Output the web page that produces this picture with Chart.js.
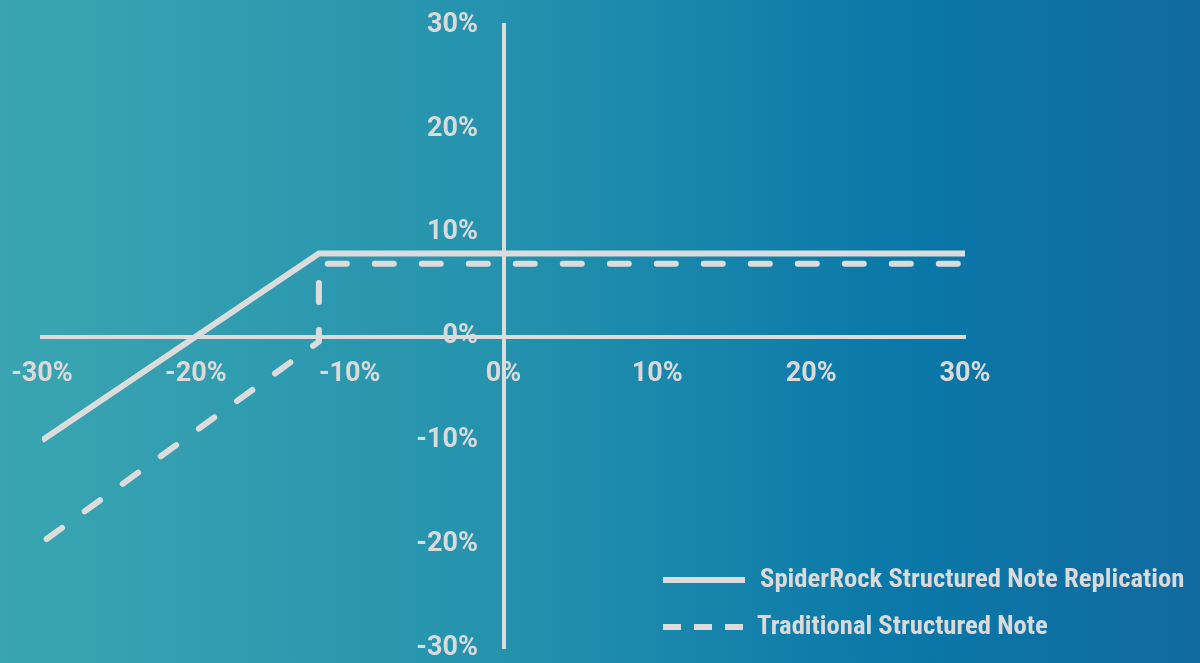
<!DOCTYPE html>
<html>
<head>
<meta charset="utf-8">
<script src="https://cdn.jsdelivr.net/npm/chart.js"></script>
<style>
  html, body { margin: 0; padding: 0; background: #1f8aab; }
  #wrap { width: 1200px; height: 663px; }
</style>
</head>
<body>
<div id="wrap"><canvas id="payoffChart" width="1200" height="663"></canvas></div>
<script>
// tick values (percent) for both axes
const tickValues = [-30, -20, -10, 0, 10, 20, 30];

// SpiderRock replication payoff (solid)
const replicationX = [-30, -12, 30];
const replicationY = [-10, 8, 8];

// traditional note payoff (dashed)
const traditionalX = [-29.7, -12, -12, 30];
const traditionalY = [-19.5, -0.5, 7, 7];

const seriesLabels = ["SpiderRock Structured Note Replication", "Traditional Structured Note"];

const lineColor = "#dcdcdc";
const textColor = "#dadada";
const condensedFont = "'Liberation Sans Narrow', 'Roboto Condensed', Roboto, sans-serif";

function toPoints(xs, ys) {
    return xs.map((x, i) => ({ x: x, y: ys[i] }));
}

// gradient background behind everything
const backgroundPlugin = {
    id: "gradientBg",
    beforeDraw(chart) {
        const ctx = chart.ctx;
        const g = ctx.createLinearGradient(0, 0, chart.width, 0);
        g.addColorStop(0, "#3aa5b1");
        g.addColorStop(0.4, "#2693ae");
        g.addColorStop(0.75, "#0a78a8");
        g.addColorStop(1, "#116aa0");
        ctx.save();
        ctx.fillStyle = g;
        ctx.fillRect(0, 0, chart.width, chart.height);
        ctx.restore();
    },
};

// legend in the lower right corner
const legendPlugin = {
    id: "noteLegend",
    afterDraw(chart) {
        const ctx = chart.ctx;
        const rows = [580, 627];
        const textX = [760, 757];
        ctx.save();
        ctx.font = "bold 26.7px " + condensedFont;
        ctx.textBaseline = "middle";
        ctx.fillStyle = textColor;
        chart.data.datasets.forEach((ds, i) => {
            ctx.strokeStyle = lineColor;
            ctx.lineWidth = 6;
            ctx.lineCap = "butt";
            ctx.setLineDash(i === 0 ? [] : [18, 13]);
            ctx.beginPath();
            ctx.moveTo(663, rows[i]);
            ctx.lineTo(745, rows[i]);
            ctx.stroke();
            ctx.fillText(ds.label, textX[i], rows[i]);
        });
        ctx.restore();
    },
};

const tickFont = { family: "Roboto, sans-serif", size: 27, weight: "bold" };

new Chart(document.getElementById("payoffChart").getContext("2d"), {
    type: "line",
    data: {
        datasets: [
            {
                label: seriesLabels[0],
                data: toPoints(replicationX, replicationY),
                borderColor: lineColor,
                borderWidth: 6,
                borderCapStyle: "butt",
                borderJoinStyle: "miter",
                pointRadius: 0,
                tension: 0,
                fill: false,
            },
            {
                label: seriesLabels[1],
                data: toPoints(traditionalX, traditionalY),
                borderColor: lineColor,
                borderWidth: 6,
                borderDash: [19, 28],
                borderCapStyle: "round",
                borderJoinStyle: "round",
                pointRadius: 0,
                tension: 0,
                fill: false,
            },
        ],
    },
    options: {
        responsive: false,
        animation: false,
        layout: {
            autoPadding: false,
            padding: { left: 42, right: 235, top: 25, bottom: 15 },
        },
        plugins: {
            legend: { display: false },
            tooltip: { enabled: false },
        },
        scales: {
            x: {
                type: "linear",
                position: { y: 0 },
                min: -30,
                max: 30,
                afterBuildTicks(scale) {
                    scale.ticks = tickValues.map((v) => ({ value: v }));
                },
                // labels may overflow the plot edges, as in the original
                afterFit(scale) {
                    scale.paddingLeft = 0;
                    scale.paddingRight = 0;
                },
                grid: { display: false, drawTicks: false },
                border: { display: true, color: lineColor, width: 4 },
                ticks: {
                    color: textColor,
                    font: tickFont,
                    padding: 22,
                    maxRotation: 0,
                    callback: (v) => v + "%",
                },
            },
            y: {
                type: "linear",
                position: { x: 0 },
                min: -30,
                max: 30,
                afterBuildTicks(scale) {
                    scale.ticks = tickValues.map((v) => ({ value: v }));
                },
                afterFit(scale) {
                    scale.paddingTop = 0;
                    scale.paddingBottom = 0;
                },
                grid: { display: false, drawTicks: false },
                border: { display: true, color: lineColor, width: 4 },
                ticks: {
                    color: textColor,
                    font: tickFont,
                    // trailing spaces keep the labels clear of the centred axis line
                    callback: (v) => v + "%   \u2009",
                },
            },
        },
    },
    plugins: [backgroundPlugin, legendPlugin],
});
</script>
</body>
</html>
